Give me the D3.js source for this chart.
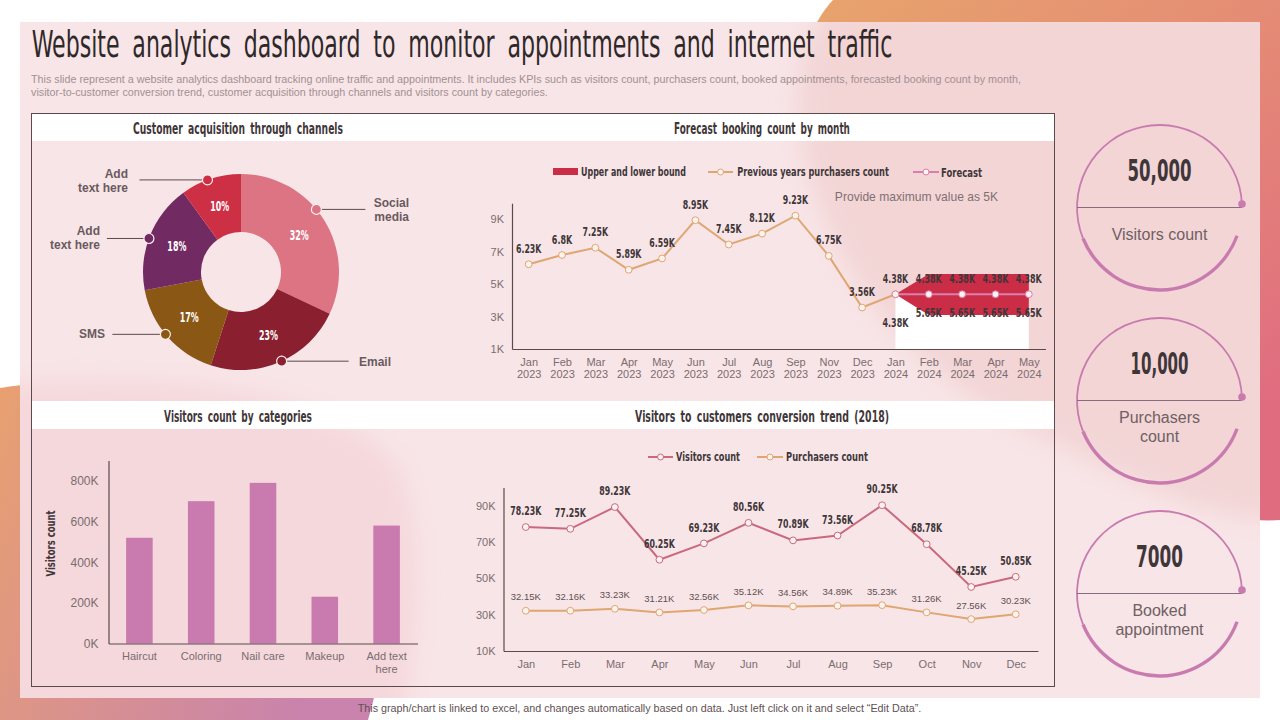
<!DOCTYPE html>
<html>
<head>
<meta charset="utf-8">
<script src="https://cdn.jsdelivr.net/npm/d3@7.9.0/dist/d3.min.js"></script>
<style>
  html, body { margin: 0; padding: 0; background: #fff; }
  svg { display: block; }
  .axis text { font-family: "Liberation Sans", Arial, sans-serif; font-size: 11px; fill: #7b6c6f; }
  .axis .domain { stroke: #5a4a4e; stroke-width: 1.2; }
  .narrow { font-family: "Liberation Sans Narrow", "DejaVu Sans Condensed", sans-serif; fill: #3f3639; }
  .plain { font-family: "Liberation Sans", Arial, sans-serif; }
</style>
</head>
<body>
<svg id="chart" width="1280" height="720"></svg>
<script>
// donut
const channels = ['Social|media', 'Email', 'SMS', 'Add|text here', 'Add|text here'];
const channelShare = [32, 23, 17, 18, 10];
const channelColors = ['#dc7483', '#8a1f30', '#8b5714', '#722b62', '#cd2f44'];
const calloutAngles = [50.3, 155.5, 230.5, 290, 340]; // where the leader dots sit, degrees

// forecast
const forecastMonths = ['Jan 2023', 'Feb 2023', 'Mar 2023', 'Apr 2023', 'May 2023', 'Jun 2023', 'Jul 2023', 'Aug 2023',
  'Sep 2023', 'Nov 2023', 'Dec 2023', 'Jan 2024', 'Feb 2024', 'Mar 2024', 'Apr 2024', 'May 2024'];
const prevPurchasers = [6.23, 6.8, 7.25, 5.89, 6.59, 8.95, 7.45, 8.12, 9.23, 6.75, 3.56, 4.38];
const forecastPart = ['Jan 2024', 'Feb 2024', 'Mar 2024', 'Apr 2024', 'May 2024'];
const forecastValues = [4.38, 4.38, 4.38, 4.38, 4.38];
const upperBound = [4.38, 5.63, 5.63, 5.63, 5.63];
const lowerBound = [4.38, 3.1, 3.1, 3.1, 3.1];
const upperLabels = ['4.38K', '4.38K', '4.38K', '4.38K', '4.38K'];
const lowerLabels = ['4.38K', '5.65K', '5.65K', '5.65K', '5.65K'];
const forecastTicks = [1, 3, 5, 7, 9];

// bars
const categories = ['Haircut', 'Coloring', 'Nail care', 'Makeup', 'Add text|here'];
const categoryVisitors = [520, 700, 790, 230, 580];
const barTicks = [0, 200, 400, 600, 800];

// conversion trend
const months = ['Jan', 'Feb', 'Mar', 'Apr', 'May', 'Jun', 'Jul', 'Aug', 'Sep', 'Oct', 'Nov', 'Dec'];
const visitors = [78.23, 77.25, 89.23, 60.25, 69.23, 80.56, 70.89, 73.56, 90.25, 68.78, 45.25, 50.85];
const purchasers = [32.15, 32.16, 33.23, 31.21, 32.56, 35.12, 34.56, 34.89, 35.23, 31.26, 27.56, 30.23];
const trendTicks = [10, 30, 50, 70, 90];

// kpi
const kpiValues = ['50,000', '10,000', '7000'];
const kpiLabels = ['Visitors count', 'Purchasers|count', 'Booked|appointment'];

const colPrev = '#dfa672', colVisitors = '#c9697f', colForecast = '#d77fae', colBar = '#c97bb0', colLine = '#5a4a4e';

const svg = d3.select('#chart');
const defs = svg.append('defs');
defs.append('filter').attr('id', 'soft').attr('x', '-20%').attr('y', '-20%').attr('width', '140%').attr('height', '140%')
  .append('feGaussianBlur').attr('stdDeviation', 12);
const g1 = defs.append('linearGradient').attr('id', 'blobRight').attr('x1', 0).attr('y1', 0).attr('x2', 0.6).attr('y2', 1);
g1.append('stop').attr('offset', '0%').attr('stop-color', '#e8a56c');
g1.append('stop').attr('offset', '100%').attr('stop-color', '#e06c80');
const g2 = defs.append('linearGradient').attr('id', 'blobLeft').attr('x1', 0).attr('y1', 0).attr('x2', 1).attr('y2', 0.4);
g2.append('stop').attr('offset', '0%').attr('stop-color', '#e8a070');
g2.append('stop').attr('offset', '100%').attr('stop-color', '#c983ac');
defs.append('clipPath').attr('id', 'panelClip').append('rect').attr('x', 20).attr('y', 22).attr('width', 1240).attr('height', 676);

// background shapes
svg.append('path').attr('fill', 'url(#blobRight)')
  .attr('d', 'M1280,0 L833,0 C812,22 790,70 800,130 C820,260 900,370 1040,436 C1130,480 1210,525 1280,520 Z');
svg.append('path').attr('fill', 'url(#blobLeft)')
  .attr('d', 'M0,388 C120,370 300,380 360,470 C410,550 385,660 368,720 L0,720 Z');
svg.append('rect').attr('x', 20).attr('y', 22).attr('width', 1240).attr('height', 676).attr('fill', '#f8e5e7');
const wash = svg.append('g').attr('clip-path', 'url(#panelClip)');
wash.append('path').attr('fill', '#f3d5d6').attr('filter', 'url(#soft)')
  .attr('d', 'M1300,0 L833,0 C812,22 790,70 800,130 C820,260 900,370 1040,436 C1130,480 1210,525 1300,520 Z');
wash.append('path').attr('fill', '#f5d8dc').attr('filter', 'url(#soft)')
  .attr('d', 'M-20,388 C120,370 340,380 400,470 C430,550 415,660 400,730 L-20,730 Z');

// narrow text: the installed condensed font is still too wide, so scale it to the width it has in the slide
function narrow(parent, str, x, y, width, size, bold, wordGap) {
  const t = parent.append('text').attr('class', 'narrow')
    .attr('text-anchor', 'middle').attr('dominant-baseline', 'central')
    .style('font-size', size + 'px').style('font-weight', bold ? 700 : 400)
    .style('word-spacing', (wordGap || 0) + 'px')
    .text(str);
  const natural = t.node().getComputedTextLength();
  t.attr('transform', `translate(${x},${y}) scale(${width / natural},1)`);
  return t;
}

function plain(parent, str, x, y, size, fill, anchor) {
  return parent.append('text').attr('class', 'plain')
    .attr('x', x).attr('y', y).attr('text-anchor', anchor || 'middle').attr('dominant-baseline', 'central')
    .style('font-size', size + 'px').style('fill', fill)
    .text(str);
}

// two line tick labels, split on | or a space
function wrapTicks(sel, sep, lineH) {
  sel.selectAll('.tick text').each(function (d) {
    const t = d3.select(this);
    const y = +t.attr('y');
    const parts = String(d).split(sep);
    t.text(null);
    parts.forEach((p, i) => {
      t.append('tspan').attr('x', 0).attr('y', y).attr('dy', (0.71 + i * lineH) + 'em').text(p);
    });
    t.attr('dy', null);
  });
}

// header
narrow(svg, 'Website analytics dashboard to monitor appointments and internet traffic', 462, 44, 861, 38, false, 9)
  .style('fill', '#2f2829');
plain(svg, 'This slide represent a website analytics dashboard tracking online traffic and appointments. It includes KPIs such as visitors count, purchasers count, booked appointments, forecasted booking count by month,', 31, 79, 10.75, '#a39092', 'start');
plain(svg, 'visitor-to-customer conversion trend, customer acquisition through channels and visitors count by categories.', 31, 92, 10.75, '#a39092', 'start');
plain(svg, 'This graph/chart is linked to excel, and changes automatically based on data. Just left click on it and select “Edit Data”.', 639.5, 708, 10.75, '#5f5053');

// dashboard frame
svg.append('rect').attr('x', 31.5).attr('y', 113.5).attr('width', 1023).attr('height', 573)
  .attr('fill', 'none').attr('stroke', colLine);
svg.append('rect').attr('x', 32).attr('y', 114).attr('width', 1022).attr('height', 27).attr('fill', '#fff');
svg.append('rect').attr('x', 32).attr('y', 401).attr('width', 1022).attr('height', 28).attr('fill', '#fff');
const headings = [
  ['Customer acquisition through channels', 238, 128.5, 210],
  ['Forecast booking count by month', 762, 128.5, 176],
  ['Visitors count by categories', 238, 417, 148],
  ['Visitors to customers conversion trend (2018)', 762, 417, 254]
];
headings.forEach(h => narrow(svg, h[0], h[1], h[2], h[3], 15, true, 3));

// donut
(function () {
  const cx = 241, cy = 272, R = 98, r = 40;
  const g = svg.append('g').attr('transform', `translate(${cx},${cy})`);
  const arcs = d3.pie().sort(null)(channelShare);
  const arc = d3.arc().innerRadius(r).outerRadius(R);
  g.selectAll('path').data(arcs).join('path')
    .attr('d', arc).attr('fill', (d, i) => channelColors[i]);
  arcs.forEach(d => {
    const c = arc.centroid(d);
    narrow(g, d.data + '%', c[0], c[1], 19, 14, true).style('fill', '#fff');
  });

  // leader lengths and text side per slice
  const leaders = [
    { len: 49, tx: 409, ty: 209.5, anchor: 'end' },
    { len: 67, tx: 375, ty: 361.5, anchor: 'middle' },
    { len: -53, tx: 92, ty: 333.5, anchor: 'middle' },
    { len: -42, tx: 100, ty: 238, anchor: 'end' },
    { len: -68, tx: 128, ty: 180.5, anchor: 'end' }
  ];
  const rad = a => a * Math.PI / 180;
  calloutAngles.forEach((a, i) => {
    const px = cx + R * Math.sin(rad(a)), py = cy - R * Math.cos(rad(a));
    svg.append('line').attr('x1', px).attr('y1', py).attr('x2', px + leaders[i].len).attr('y2', py)
      .attr('stroke', colLine).attr('stroke-width', 1);
    svg.append('circle').attr('cx', px).attr('cy', py).attr('r', 5)
      .attr('fill', channelColors[i]).attr('stroke', '#fbeeee').attr('stroke-width', 1.2);
    const lines = channels[i].split('|');
    lines.forEach((l, j) => {
      plain(svg, l, leaders[i].tx, leaders[i].ty + (j - (lines.length - 1) / 2) * 14, 12, '#6a5a5e', leaders[i].anchor).style('font-weight', 700);
    });
  });
})();

function drawLine(g, pts, x, y, color, w) {
  const line = d3.line().x(d => x(d[0])).y(d => y(d[1]));
  g.append('path').attr('d', line(pts)).attr('fill', 'none').attr('stroke', color).attr('stroke-width', w);
  g.selectAll(null).data(pts).join('circle')
    .attr('cx', d => x(d[0])).attr('cy', d => y(d[1])).attr('r', 3.4)
    .attr('fill', '#fdf3ee').attr('stroke', color).attr('stroke-width', 1);
}

function legendLine(x1, x2, y, color) {
  svg.append('line').attr('x1', x1).attr('x2', x2).attr('y1', y).attr('y2', y).attr('stroke', color).attr('stroke-width', 2);
  svg.append('circle').attr('cx', (x1 + x2) / 2).attr('cy', y).attr('r', 3)
    .attr('fill', '#fdf3ee').attr('stroke', color);
}

// forecast chart
(function () {
  const x = d3.scalePoint().domain(forecastMonths).range([512, 1045.5]).padding(0.5);
  const y = d3.scaleLinear().domain([1, 10]).range([349, 203.2]);
  const g = svg.append('g');

  // white lower part + red band
  const rows = forecastPart.map((m, i) => ({ m, lo: lowerBound[i], hi: upperBound[i], f: forecastValues[i] }));
  g.append('path').attr('fill', '#fff')
    .attr('d', d3.area().x(d => x(d.m)).y0(y(1)).y1(d => y(d.lo))(rows));
  g.append('path').attr('fill', '#cb2d47')
    .attr('d', d3.area().x(d => x(d.m)).y0(d => y(d.lo)).y1(d => y(d.hi))(rows));

  g.append('g').attr('class', 'axis').attr('transform', 'translate(0,349)')
    .call(d3.axisBottom(x).tickSize(0).tickPadding(9)).call(wrapTicks, ' ', 1.1);
  g.append('g').attr('class', 'axis').attr('transform', 'translate(512,0)')
    .call(d3.axisLeft(y).tickValues(forecastTicks).tickFormat(d => d + 'K').tickSize(0).tickPadding(8));

  drawLine(g, prevPurchasers.map((v, i) => [forecastMonths[i], v]), x, y, colPrev, 2);
  drawLine(g, forecastValues.map((v, i) => [forecastPart[i], v]), x, y, colForecast, 2);

  prevPurchasers.forEach((v, i) => {
    narrow(g, v + 'K', x(forecastMonths[i]), y(v) - 15.5, (String(v).length + 1) * 5.1, 13, true);
  });
  forecastPart.forEach((m, i) => {
    if (i > 0) narrow(g, upperLabels[i], x(m), y(upperBound[i]) + 5, 26, 13, true);
    narrow(g, lowerLabels[i], x(m), i === 0 ? y(lowerBound[i]) + 28.5 : y(lowerBound[i]) - 2.5, 26, 13, true);
  });

  // legend
  svg.append('rect').attr('x', 553).attr('y', 168).attr('width', 25).attr('height', 7).attr('fill', '#cb2d47');
  narrow(svg, 'Upper and lower bound', 633.5, 172, 105, 13, true);
  legendLine(708, 733, 172, colPrev);
  narrow(svg, 'Previous years purchasers count', 813, 172, 152, 13, true);
  legendLine(913, 939, 172, colForecast);
  narrow(svg, 'Forecast', 961.5, 172, 41, 13, true);
  plain(svg, 'Provide maximum value as 5K', 916.5, 197, 12.1, '#7f7074');
})();

// bars
(function () {
  const x = d3.scaleBand().domain(categories).range([108.5, 417.5]).paddingInner(0.57).paddingOuter(0.285);
  const y = d3.scaleLinear().domain([0, 900]).range([643.5, 460.5]);
  const g = svg.append('g');
  g.selectAll('rect').data(categories).join('rect')
    .attr('x', d => x(d)).attr('width', x.bandwidth())
    .attr('y', (d, i) => y(categoryVisitors[i]))
    .attr('height', (d, i) => y(0) - y(categoryVisitors[i]))
    .attr('fill', colBar);
  g.append('g').attr('class', 'axis').attr('transform', 'translate(0,643.5)')
    .call(d3.axisBottom(x).tickSize(0).tickPadding(9)).call(wrapTicks, '|', 1.15);
  g.append('g').attr('class', 'axis').attr('transform', 'translate(108.5,0)')
    .call(d3.axisLeft(y).tickValues(barTicks).tickFormat(d => d + 'K').tickSize(0).tickPadding(10))
    .selectAll('text').style('font-size', '12px');
  const yLabel = svg.append('g').attr('transform', 'translate(50,543.5) rotate(-90)');
  narrow(yLabel, 'Visitors count', 0, 0, 66, 13, true);
})();

// conversion trend
(function () {
  const x = d3.scalePoint().domain(months).range([503.5, 1038]).padding(0.5);
  const y = d3.scaleLinear().domain([10, 100]).range([651, 487.5]);
  const g = svg.append('g');
  g.append('g').attr('class', 'axis').attr('transform', 'translate(0,651)')
    .call(d3.axisBottom(x).tickSize(0).tickPadding(9));
  g.append('g').attr('class', 'axis').attr('transform', 'translate(503.5,0)')
    .call(d3.axisLeft(y).tickValues(trendTicks).tickFormat(d => d + 'K').tickSize(0).tickPadding(8));
  drawLine(g, months.map((m, i) => [m, visitors[i]]), x, y, colVisitors, 2);
  drawLine(g, months.map((m, i) => [m, purchasers[i]]), x, y, colPrev, 2);
  visitors.forEach((v, i) => {
    narrow(g, v + 'K', x(months[i]), y(v) - 16, 31, 13, true);
  });
  purchasers.forEach((v, i) => {
    plain(g, v + 'K', x(months[i]), y(v) - 14, 9.5, '#5f5053');
  });
  legendLine(648, 673, 457, colVisitors);
  narrow(svg, 'Visitors count', 708, 457, 64, 13, true);
  legendLine(757, 783, 457, colPrev);
  narrow(svg, 'Purchasers count', 827, 457, 82, 13, true);
})();

// kpi rings
const kpiWidths = [64, 58, 47];
kpiValues.forEach((val, i) => {
  const cx = 1159.5, cy = 207.5 + i * 193, R = 82.5;
  const g = svg.append('g').attr('transform', `translate(${cx},${cy})`);
  const rad = a => a * Math.PI / 180;
  const ring = (a0, a1, w) => g.append('path')
    .attr('d', d3.arc().innerRadius(R - w / 2).outerRadius(R + w / 2).startAngle(rad(a0)).endAngle(rad(a1))())
    .attr('fill', colBar);
  ring(-112, 88, 1.8);
  ring(110, 248, 3.4);
  g.append('line').attr('x1', -R).attr('x2', R).attr('stroke', '#8a6a80').attr('stroke-width', 1.2);
  g.append('circle').attr('cx', R).attr('cy', -3.5).attr('r', 3.8).attr('fill', colBar);
  narrow(g, val, 0, -37, kpiWidths[i], 30, true);
  const lines = kpiLabels[i].split('|');
  lines.forEach((l, j) => {
    plain(g, l, 0, lines.length > 1 ? 17 + j * 19 : 27, 16, '#6f6063');
  });
});
</script>
</body>
</html>
